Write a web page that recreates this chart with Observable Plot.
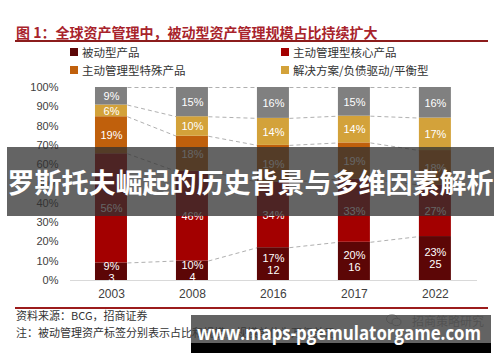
<!DOCTYPE html>
<html><head><meta charset="utf-8">
<script src="https://cdn.jsdelivr.net/npm/d3@7"></script>
<script src="https://cdn.jsdelivr.net/npm/@observablehq/plot@0.6"></script>
<style>
body{margin:0;background:#fff;}
#wrap{position:relative;width:500px;height:362px;overflow:hidden;font-family:"Liberation Sans",Arial,sans-serif;background:#fff;}
.abs{position:absolute;white-space:nowrap;}
.cjk{font-family:"Noto Sans CJK SC","Noto Sans",sans-serif;}
.lg{font-size:11.5px;color:#333;line-height:14px;}
.sw{position:absolute;width:8px;height:8px;}
#chart{position:absolute;left:0;top:78px;}
</style></head><body>
<div id="wrap">
  <div class="abs cjk" id="title" style="left:16px;top:23px;font-size:14px;line-height:18px;font-weight:700;color:#a8232b;"></div>
  <div class="abs" style="left:15px;top:40px;width:473px;height:2px;background:#8c1c1c;"></div>
  <div id="legend"></div>
  <div id="chart"></div>
  <div class="abs" style="left:15px;top:307px;width:473px;height:2px;background:#9c1c1c;"></div>
  <div class="abs cjk" id="src1" style="left:16px;top:308px;font-size:11px;line-height:14px;color:#333;"></div>
  <div class="abs cjk" id="src2" style="left:16px;top:325px;font-size:11px;line-height:14px;color:#333;"></div>
  <svg class="abs" style="left:386px;top:313px" width="16" height="14"><ellipse cx="6" cy="6" rx="5.5" ry="4.5" fill="none" stroke="#b0b0b0"/><ellipse cx="10.5" cy="9" rx="4.5" ry="3.6" fill="#fff" stroke="#b0b0b0"/></svg>
  <div class="abs cjk" id="wm" style="left:412px;top:313px;font-size:12px;line-height:16px;color:#aaa;"></div>
  <div class="abs" style="left:7px;top:147px;width:487px;height:69px;background:rgba(48,48,48,0.75);"></div>
  <div class="abs cjk" id="banner" style="left:7px;top:147px;width:487px;height:69px;line-height:69px;text-align:center;font-size:27px;font-weight:700;color:#fff;"></div>
  <div class="abs" style="left:191px;top:315px;width:300px;height:28px;background:rgba(60,60,60,0.8);"></div>
  <div class="abs" style="left:191px;top:343px;width:300px;height:10px;background:#000;"></div>
  <svg class="abs" style="left:191px;top:315px" width="300" height="38"><text id="url" x="6" y="25" fill="#fff" font-family="'Open Sans','DejaVu Sans',sans-serif" font-weight="700" font-size="19" lengthAdjust="spacingAndGlyphs" textLength="284"></text></svg>
</div>
<script>
// ---- data ----
const titleText = "图 1：全球资产管理中，被动型资产管理规模占比持续扩大";
const years = ["2003", "2008", "2016", "2017", "2022"];
const seriesNames = ["被动型产品", "主动管理型核心产品", "主动管理型特殊产品", "解决方案/负债驱动/平衡型", "其他"];
const seriesColors = ["#5c0606", "#a30000", "#c0600c", "#d3a23a", "#808080"];
const passiveShare = [9, 10, 17, 20, 23];
const passiveScale = [3, 4, 12, 16, 25];
const activeCoreShare = [56, 46, 34, 33, 27];
const activeSpecialShare = [19, 18, 19, 19, 18];
const solutionShare = [6, 10, 14, 14, 17];
const otherShare = [9, 15, 16, 15, 16];
const yTicks = [0, 0.1, 0.2, 0.3, 0.4, 0.5, 0.6, 0.7, 0.8, 0.9, 1.0];
const legendOrder = [0, 1, 2, 3];
const sourceText = "资料来源：BCG，招商证券";
const noteText = "注：被动管理资产标签分别表示占比和规模，规模单位为万亿美元";
const watermarkText = "招商策略研究";
const bannerText = "罗斯托夫崛起的历史背景与多维因素解析";
const urlText = "www.maps-pgemulatorgame.com";

// ---- text ----
document.getElementById("title").textContent = titleText;
document.getElementById("src1").textContent = sourceText;
document.getElementById("src2").textContent = noteText;
document.getElementById("wm").textContent = watermarkText;
document.getElementById("banner").textContent = bannerText;
document.getElementById("url").textContent = urlText;

// legend
const legendPos = [[70, 45], [281, 45], [70, 63], [281, 63]];
const lg = document.getElementById("legend");
legendOrder.forEach((s, k) => {
  const [lx, ly] = legendPos[k];
  const sw = document.createElement("div");
  sw.className = "sw";
  sw.style.left = lx + "px"; sw.style.top = (ly + 3) + "px"; sw.style.background = seriesColors[s];
  lg.appendChild(sw);
  const t = document.createElement("div");
  t.className = "abs cjk lg";
  t.style.left = (lx + 12) + "px"; t.style.top = ly + "px";
  t.textContent = seriesNames[s];
  lg.appendChild(t);
});

// ---- build stacked segments (normalized to 100%) ----
const seriesValues = [passiveShare, activeCoreShare, activeSpecialShare, solutionShare, otherShare];
const segs = [];
const bounds = []; // bounds[i][k] cumulative top of series k
years.forEach((yr, i) => {
  const total = d3.sum(seriesValues, v => v[i]);
  let cum = 0;
  bounds.push([]);
  seriesValues.forEach((vals, s) => {
    const v = vals[i];
    const y1 = cum / total, y2 = (cum + v) / total;
    cum += v;
    bounds[i].push(y2);
    segs.push({
      i, series: seriesNames[s], y1, y2,
      label: s === 0 ? `${v}%\n${passiveScale[i]}` : `${v}%`
    });
  });
});
const hw = 16 / 81; // half bar width in index units
const links = [];
for (let i = 0; i < years.length - 1; i++) {
  for (let k = 0; k < seriesValues.length; k++) {
    links.push({x1: i + hw, x2: i + 1 - hw, y1: bounds[i][k], y2: bounds[i + 1][k]});
  }
}

const chart = Plot.plot({
  width: 500, height: 227,
  marginTop: 9, marginBottom: 25, marginLeft: 70, marginRight: 23,
  style: {fontFamily: "'Liberation Sans', Arial, sans-serif", background: "transparent"},
  x: {domain: [-0.506, 4.52], axis: null},
  y: {domain: [0, 1], axis: null},
  color: {domain: seriesNames, range: seriesColors},
  marks: [
    Plot.ruleY([0], {stroke: "#d9d9d9", strokeWidth: 1}),
    Plot.link(links, {x1: "x1", x2: "x2", y1: "y1", y2: "y2", stroke: "#b0b0b0", strokeWidth: 1, strokeDasharray: "4,3"}),
    Plot.rectY(segs, {x1: d => d.i - hw, x2: d => d.i + hw, y1: "y1", y2: "y2", fill: "series"}),
    Plot.text(segs, {x: "i", y: d => (d.y1 + d.y2) / 2, text: "label", fill: "#fff", fontSize: 11, lineHeight: 1.1}),
    Plot.axisY(yTicks, {tickFormat: d3.format(".0%"), tickSize: 0, tickPadding: 12, fontSize: 11, fill: "#404040"}),
    Plot.axisX(d3.range(years.length), {tickFormat: i => years[i], tickSize: 0, tickPadding: 9, fontSize: 12, fill: "#404040"})
  ]
});
document.getElementById("chart").appendChild(chart);
</script>
</body></html>
